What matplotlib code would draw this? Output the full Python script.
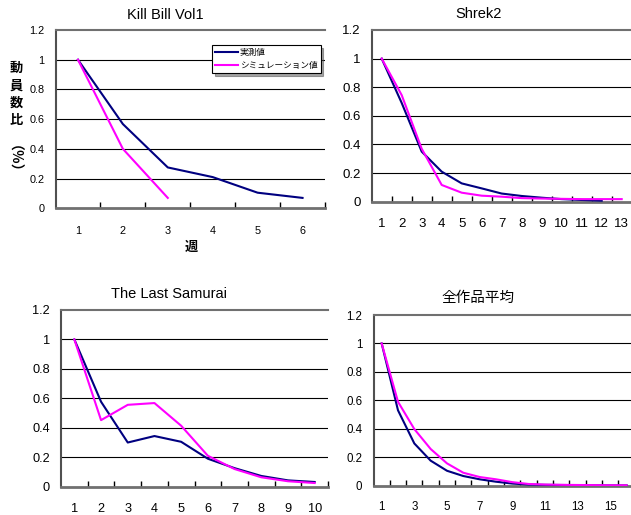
import matplotlib
matplotlib.use("Agg")
from matplotlib import pyplot as plt

# Data
kill_actual = [1.0, 0.567, 0.275, 0.21, 0.105, 0.07]
kill_sim = [1.0, 0.40, 0.07]

shrek_actual = [1.0, 0.69, 0.35, 0.21, 0.128, 0.093, 0.057, 0.04, 0.028, 0.018, 0.012, 0.007]
shrek_sim = [1.0, 0.745, 0.37, 0.117, 0.063, 0.042, 0.035, 0.025, 0.022, 0.02, 0.018, 0.018, 0.018]

samurai_actual = [1.0, 0.577, 0.30, 0.344, 0.305, 0.19, 0.126, 0.073, 0.043, 0.032]
samurai_sim = [1.0, 0.452, 0.556, 0.568, 0.414, 0.21, 0.12, 0.064, 0.037, 0.025]

avg_actual = [1.0, 0.53, 0.297, 0.176, 0.105, 0.068, 0.045, 0.028, 0.015, 0.008,
              0.006, 0.005, 0.004, 0.003, 0.002, 0.002]
avg_sim = [1.0, 0.59, 0.398, 0.258, 0.157, 0.091, 0.061, 0.045, 0.025, 0.012,
           0.008, 0.006, 0.005, 0.004, 0.003, 0.003]

titles = ["Kill Bill Vol1", "Shrek2", "The Last Samurai", "全作品平均"]
legend_labels = ["実測値", "シミュレーション値"]
y_ticks = [0, 0.2, 0.4, 0.6, 0.8, 1.0, 1.2]
y_tick_labels = ["0", "0.2", "0.4", "0.6", "0.8", "1", "1.2"]

plt.rcParams['font.family'] = ['Liberation Sans', 'Noto Sans CJK JP', 'DejaVu Sans']

W, H = 631, 515
navy = '#000080'
magenta = '#FF00FF'


def px_rect(l, t, r, b):
    return [l / W, 1 - b / H, (r - l) / W, (b - t) / H]


def setup(ax, n, fs, pad, label_step=1):
    ax.set_xlim(0.5, n + 0.5)
    ax.set_ylim(0, 1.2)
    ax.set_yticks(y_ticks)
    ax.set_yticklabels(y_tick_labels, fontsize=fs)
    ax.tick_params(axis='y', length=0, pad=8)
    cats = list(range(1, n + 1))
    ax.set_xticks(cats)
    ax.set_xticklabels([str(c) if (c - 1) % label_step == 0 else "" for c in cats], fontsize=fs)
    ax.set_xticks([c + 0.5 for c in cats], minor=True)
    ax.tick_params(axis='x', which='major', length=0, pad=pad)
    ax.tick_params(axis='x', which='minor', direction='in', length=4, width=1, color='black')
    for v in y_ticks[1:-1]:
        ax.axhline(v, color='black', lw=0.8, zorder=1)
    ax.spines['right'].set_visible(False)
    ax.spines['top'].set_color('#707070')
    ax.spines['top'].set_linewidth(1.5)
    ax.spines['left'].set_color('#505050')
    ax.spines['left'].set_linewidth(1.5)
    ax.spines['bottom'].set_color('#707070')
    ax.spines['bottom'].set_linewidth(2)


def plot_pair(ax, actual, sim):
    la, = ax.plot(range(1, len(actual) + 1), actual, color=navy, lw=1.5, zorder=3)
    ls, = ax.plot(range(1, len(sim) + 1), sim, color=magenta, lw=1.5, zorder=3)
    return la, ls


fig = plt.figure(figsize=(W / 100, H / 100), dpi=100)

ax1 = fig.add_axes(px_rect(55.5, 30, 325, 208.3))
la, ls = plot_pair(ax1, kill_actual, kill_sim)
setup(ax1, len(kill_actual), 7.8, 13)

ax2 = fig.add_axes(px_rect(371.7, 30, 631.7, 201.7))
plot_pair(ax2, shrek_actual, shrek_sim)
setup(ax2, len(shrek_sim), 9.5, 11.8)

ax3 = fig.add_axes(px_rect(61, 310, 328, 486.7))
plot_pair(ax3, samurai_actual, samurai_sim)
setup(ax3, len(samurai_actual), 9.2, 11.8)

ax4 = fig.add_axes(px_rect(373.5, 315, 634.8, 485.7))
plot_pair(ax4, avg_actual, avg_sim)
setup(ax4, len(avg_sim), 8.3, 11, label_step=2)

# Titles
for (x, y), t in zip([(165, 15), (479, 14), (169, 294), (478, 298)], titles):
    fig.text(x / W, 1 - y / H, t, ha='center', va='center', fontsize=10.5)

# Axis labels of the first chart
fig.text(16 / W, 1 - 94 / H, "動\n員\n数\n比", ha='center', va='center', fontsize=9.5,
         fontweight='bold', family=['Noto Sans CJK JP'], linespacing=1.3)
fig.text(6 / W, 1 - 166 / H, "（％）", ha='center', va='center', fontsize=10,
         fontweight='bold', family=['Noto Sans CJK JP'], rotation=270)
fig.text(191 / W, 1 - 247 / H, "週", ha='center', va='center', fontsize=9.5,
         fontweight='bold', family=['Noto Sans CJK JP'])

leg = ax1.legend([la, ls], legend_labels, loc='upper left',
                 bbox_to_anchor=(212 / W, 1 - 45 / H), bbox_transform=fig.transFigure,
                 prop={'family': ['Noto Sans CJK JP'], 'size': 6.2},
                 fancybox=False, shadow=True, framealpha=1, edgecolor='black',
                 handlelength=2.7, handletextpad=0.2, borderpad=0.35, labelspacing=0.5,
                 borderaxespad=0)
leg.get_frame().set_linewidth(0.8)

fig.savefig("out.png", dpi=100)
